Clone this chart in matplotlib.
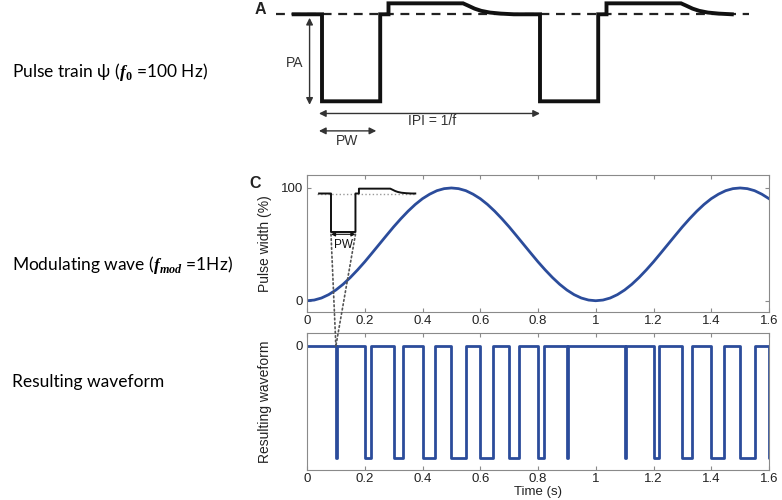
import numpy as np
import matplotlib
matplotlib.use("Agg")
import matplotlib.pyplot as plt
from matplotlib.patches import ConnectionPatch

W, H = 782, 500

# modulating wave: pulse width (%) sampled every 0.025 s
mod_t = np.linspace(0, 1.6, 65)
mod_pw = [0, 0.6, 2.4, 5.4, 9.5, 14.6, 20.6, 27.3, 34.5, 42.2, 50, 57.8, 65.5,
          72.7, 79.4, 85.4, 90.5, 94.5, 97.6, 99.4, 100,
          99.4, 97.6, 94.5, 90.5, 85.4, 79.4, 72.7, 65.5, 57.8, 50, 42.2, 34.5,
          27.3, 20.6, 14.6, 9.5, 5.4, 2.4, 0.6, 0,
          0.6, 2.4, 5.4, 9.5, 14.6, 20.6, 27.3, 34.5, 42.2, 50, 57.8, 65.5,
          72.7, 79.4, 85.4, 90.5, 94.5, 97.6, 99.4, 100, 99.4, 97.6, 94.5, 90.5]

# resulting waveform: pulse onsets (s) and widths (s)
pulse_on = [0.1, 0.2, 0.3, 0.4, 0.5, 0.6, 0.7, 0.8, 0.9, 1.0, 1.1, 1.2, 1.3, 1.4, 1.5, 1.6]
pulse_w = [0.005, 0.02, 0.033, 0.045, 0.05, 0.045, 0.033, 0.02, 0.005, 0.0,
           0.005, 0.02, 0.033, 0.045, 0.05, 0.02]

# schematic single pulse (time in IPI units, amplitude relative to PA)
sch_t = [-0.13, 0, 0, 0.267, 0.267, 0.305, 0.305, 0.647, 0.67, 0.70, 0.73, 0.77, 0.82, 0.88, 1.0]
sch_a = [0, 0, -1, -1, 0, 0, 0.126, 0.126, 0.10, 0.065, 0.04, 0.02, 0.008, 0, 0]

x_ticks = [0, 0.2, 0.4, 0.6, 0.8, 1, 1.2, 1.4, 1.6]
x_labels = ["0", "0.2", "0.4", "0.6", "0.8", "1", "1.2", "1.4", "1.6"]

plt.rcParams["font.family"] = ["Liberation Sans", "DejaVu Sans"]
plt.rcParams["mathtext.fontset"] = "custom"
plt.rcParams["mathtext.bfit"] = "Liberation Serif:italic:bold"
plt.rcParams["mathtext.bf"] = "Liberation Serif:bold"

BLUE = "#2B4C9B"
GRID = "#8a8a8a"
TXT = "#222222"

fig = plt.figure(figsize=(W / 100, H / 100), dpi=100)


def px_axes(x0, y0, x1, y1):
    return fig.add_axes([x0 / W, 1 - y1 / H, (x1 - x0) / W, (y1 - y0) / H])


def style(ax):
    for s in ax.spines.values():
        s.set_color(GRID)
        s.set_linewidth(0.8)
    ax.tick_params(direction="in", top=True, right=True, length=3, width=0.8,
                   color=GRID, labelcolor=TXT, labelsize=9.5, pad=3)
    ax.tick_params(axis="x", pad=2)
    ax.set_xlim(0, 1.6)
    ax.set_xticks(x_ticks)
    ax.set_xticklabels(x_labels)


# ---- panel A : schematic pulse train  (x px = 322 + 218*t, y px = 14.3 - 87*a)
axA = px_axes(260, 0, 770, 150)
axA.set_xlim((260 - 322) / 218, (770 - 322) / 218)
axA.set_ylim(-(150 - 14.3) / 87, 14.3 / 87)
axA.axis("off")
a_t = sch_t + [t + 1 for t in sch_t[1:-1]]
a_a = sch_a + sch_a[1:-1]
axA.plot([-0.212, 1.957], [0, 0], color="#222", lw=1.6, dashes=(4, 3))
axA.plot(a_t, a_a, color="#111", lw=2.8, solid_joinstyle="miter")
arr = dict(arrowstyle="<|-|>", color="#333", lw=1, mutation_scale=10, shrinkA=0, shrinkB=0)
axA.annotate("", xy=(-0.057, -1.04), xytext=(-0.057, -0.04), arrowprops=arr)
axA.text(-0.127, -0.56, "PA", ha="center", va="center", fontsize=10, color="#333")
axA.annotate("", xy=(1.0, -1.14), xytext=(-0.014, -1.14), arrowprops=arr)
axA.text(0.505, -1.23, "IPI = 1/f", ha="center", va="center", fontsize=10, color="#333")
axA.annotate("", xy=(0.249, -1.34), xytext=(-0.014, -1.34), arrowprops=arr)
axA.text(0.117, -1.46, "PW", ha="center", va="center", fontsize=10, color="#333")
fig.text(260 / W, 1 - 10 / H, "A", fontsize=11.5, fontweight="bold", color="#222", ha="center", va="center")

# ---- panel C : modulating wave
axC = px_axes(307, 175, 769, 312)
style(axC)
axC.plot(mod_t, mod_pw, color=BLUE, lw=2.0)
axC.set_ylim(-10, 111.5)
axC.set_yticks([0, 100])
axC.set_ylabel("Pulse width (%)", fontsize=10, color=TXT)
axC.yaxis.set_label_coords(-(307 - 272) / 462, 0.5)
fig.text(255 / W, 1 - 183 / H, "C", fontsize=11.5, fontweight="bold", color="#222", ha="center", va="center")

# inset: one pulse of the train
axI = px_axes(300, 178, 440, 250)
axI.set_xlim((300 - 331) / 91.6, (440 - 331) / 91.6)
axI.set_ylim((193.5 - 250) / 38.5, (193.5 - 178) / 38.5)
axI.axis("off")
axI.plot([-0.15, 0.93], [0, 0], color="#999", lw=1, ls=":")
axI.plot(sch_t[:-1] + [0.92], sch_a[:-1] + [0], color="#111", lw=1.4)
axI.annotate("", xy=(0.267, -1.06), xytext=(0, -1.06),
             arrowprops=dict(arrowstyle="<|-|>", color="#111", lw=0.8, mutation_scale=6, shrinkA=0, shrinkB=0))
axI.text(0.134, -1.33, "PW", ha="center", va="center", fontsize=8.5, color="#111")

# ---- resulting waveform
axB = px_axes(307, 333, 769, 470)
style(axB)
wx, wy = [0], [0]
for on, w in zip(pulse_on, pulse_w):
    if w <= 0:
        continue
    wx += [on, on, on + w, on + w]
    wy += [0, -1, -1, 0]
axB.plot(wx, wy, color=BLUE, lw=2.0)
axB.set_ylim(-1.107, 0.116)
axB.set_yticks([0])
axB.set_ylabel("Resulting waveform", fontsize=10, color=TXT)
axB.yaxis.set_label_coords(-(307 - 272) / 462, 0.5)
axB.set_xlabel("Time (s)", fontsize=9.5, color=TXT)
axB.xaxis.set_label_coords(0.5, -(486 - 470) / 137)

# dotted lines linking the inset pulse to the first pulse
for u in [0, 0.267]:
    con = ConnectionPatch(xyA=(u, -1.06), coordsA=axI.transData, xyB=(0.1, 0), coordsB=axB.transData,
                          ls=":", color="#555", lw=1.2)
    fig.add_artist(con)

# ---- left-hand descriptions
lf = ["Lato", "DejaVu Sans"]
fig.text(12 / W, 1 - 72 / H, r"Pulse train ψ ($\mathbfit{f}_{\mathbf{0}}$ =100 Hz)", family=lf,
         fontsize=12.5, va="center", ha="left")
fig.text(12 / W, 1 - 265 / H, r"Modulating wave ($\mathbfit{f}_{\mathbfit{mod}}$ =1Hz)", family=lf,
         fontsize=12.5, va="center", ha="left")
fig.text(12 / W, 1 - 382 / H, "Resulting waveform", family=lf, fontsize=12.5, va="center", ha="left")

fig.savefig("out.png", dpi=100)
